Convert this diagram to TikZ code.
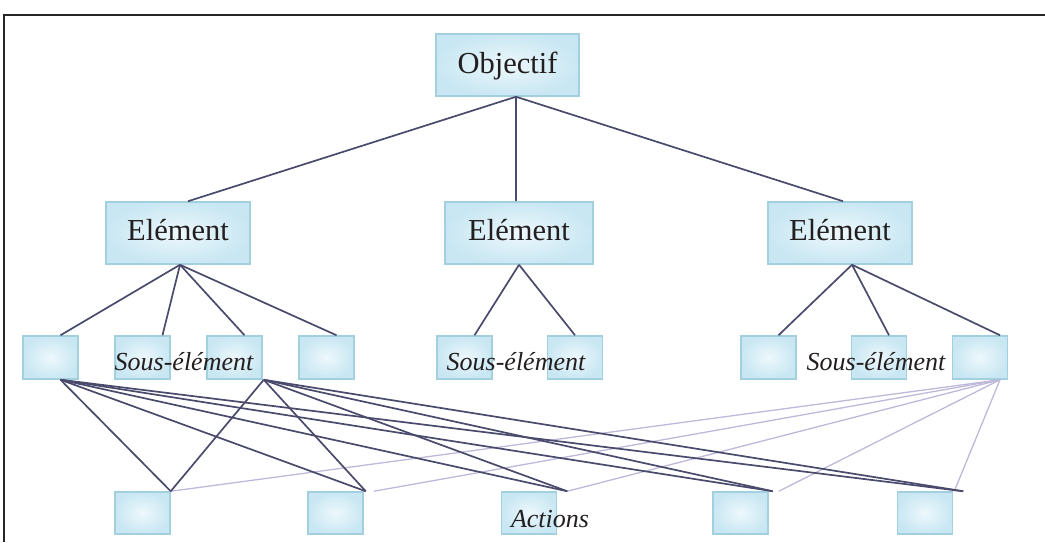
\documentclass[tikz,border=0pt]{standalone}
\usepackage{fontspec}
\setmainfont{Liberation Serif}
\definecolor{boxfill}{HTML}{C9E7F3}
\definecolor{boxin}{HTML}{EDF8FC}
\definecolor{boxline}{HTML}{A3D0DE}
\definecolor{darkline}{HTML}{4A4A6C}
\definecolor{lightline}{HTML}{BFB8D9}
\definecolor{txt}{HTML}{231F20}
\begin{document}
\begin{tikzpicture}[x=1pt,y=-1pt,
  box/.style={draw=boxline, line width=1.5pt, inner color=boxin, outer color=boxfill, inner sep=0pt, text=txt},
  bigbox/.style={box, minimum width=143pt, minimum height=62pt, font=\fontsize{30.5}{36}\selectfont, text height=20pt, text depth=5pt},
  smallbox/.style={box, minimum width=55pt, minimum height=43pt},
  actbox/.style={box, minimum width=55pt, minimum height=42pt},
  lab/.style={anchor=base, inner sep=0pt, text=txt, font=\fontsize{26}{30}\selectfont\itshape},
  dk/.style={draw=darkline, line width=1.7pt},
  lt/.style={draw=lightline, line width=1.3pt},
  frame/.style={draw=black!85, line width=2pt}]
\useasboundingbox (0,0) rectangle (1045,542);
% frame
\coordinate (ftl) at (4.3,15);
\coordinate (ftr) at (1045,15);
\coordinate (fbl) at (4.3,542);
\draw[frame] (fbl) -- (ftl) -- (ftr);
% top level
\node[bigbox, text depth=4pt] (obj) at (507.5,65) {Objectif};
\node[bigbox, text depth=6pt, minimum width=144pt] (e1) at (178,233) {Elément};
\node[bigbox, text depth=6pt, minimum width=148pt] (e2) at (519,233) {Elément};
\node[bigbox, text depth=6pt, minimum width=144pt] (e3) at (840,233) {Elément};
% sub-elements
\node[smallbox] (s1) at (50.5,357.5) {};
\node[smallbox] (s2) at (142.5,357.5) {};
\node[smallbox] (s3) at (234.5,357.5) {};
\node[smallbox] (s4) at (326.5,357.5) {};
\node[smallbox] (s5) at (464.5,357.5) {};
\node[smallbox] (s6) at (575,357.5) {};
\node[smallbox] (s7) at (768.5,357.5) {};
\node[smallbox] (s8) at (879,357.5) {};
\node[smallbox] (s9) at (980,357.5) {};
% actions
\node[actbox] (a1) at (142.5,513) {};
\node[actbox] (a2) at (335.5,513) {};
\node[actbox] (a3) at (529,513) {};
\node[actbox] (a4) at (740.5,513) {};
\node[actbox] (a5) at (925,513) {};
% connectors objectif -> elements
\draw[dk] ([xshift=8.5pt]obj.south) -- ([xshift=10pt]e1.north);
\draw[dk] ([xshift=8.5pt]obj.south) -- ([xshift=-3pt]e2.north);
\draw[dk] ([xshift=8.5pt]obj.south) -- ([xshift=3pt]e3.north);
% elements -> sub-elements
\draw[dk] ([xshift=2pt]e1.south) -- ([xshift=10pt]s1.north);
\draw[dk] ([xshift=2pt]e1.south) -- ([xshift=20pt]s2.north);
\draw[dk] ([xshift=2pt]e1.south) -- ([xshift=10pt]s3.north);
\draw[dk] ([xshift=2pt]e1.south) -- ([xshift=10pt]s4.north);
\draw[dk] (e2.south) -- ([xshift=10pt]s5.north);
\draw[dk] (e2.south) -- (s6.north);
\draw[dk] ([xshift=12pt]e3.south) -- ([xshift=10pt]s7.north);
\draw[dk] ([xshift=12pt]e3.south) -- ([xshift=10pt]s8.north);
\draw[dk] ([xshift=12pt]e3.south) -- ([xshift=20pt]s9.north);
% light connectors from s9
\draw[lt] ([xshift=20pt]s9.south) -- (a1.north east);
\draw[lt] ([xshift=20pt]s9.south) -- ([xshift=10pt]a2.north east);
\draw[lt] ([xshift=20pt]s9.south) -- ([xshift=10pt]a3.north east);
\draw[lt] ([xshift=20pt]s9.south) -- ([xshift=10pt]a4.north east);
\draw[lt] ([xshift=20pt]s9.south) -- ([xshift=1pt]a5.north east);
% dark connectors from s1
\draw[dk] ([xshift=10pt]s1.south) -- (a1.north east);
\draw[dk] ([xshift=10pt]s1.south) -- ([xshift=2pt]a2.north east);
\draw[dk] ([xshift=10pt]s1.south) -- ([xshift=10pt]a3.north east);
\draw[dk] ([xshift=10pt]s1.south) -- ([xshift=4pt]a4.north east);
\draw[dk] ([xshift=10pt]s1.south) -- ([xshift=10pt]a5.north east);
% dark connectors from s3
\draw[dk] ([xshift=1pt]s3.south east) -- (a1.north east);
\draw[dk] ([xshift=1pt]s3.south east) -- ([xshift=2pt]a2.north east);
\draw[dk] ([xshift=1pt]s3.south east) -- ([xshift=10pt]a3.north east);
\draw[dk] ([xshift=1pt]s3.south east) -- ([xshift=4pt]a4.north east);
\draw[dk] ([xshift=1pt]s3.south east) -- ([xshift=10pt]a5.north east);
% labels
\node[lab] (l1) at (184,370) {Sous-élément};
\node[lab] (l2) at (516,370) {Sous-élément};
\node[lab] (l3) at (876,370) {Sous-élément};
\node[lab] (l4) at (550,527) {Actions};
\end{tikzpicture}
\end{document}
